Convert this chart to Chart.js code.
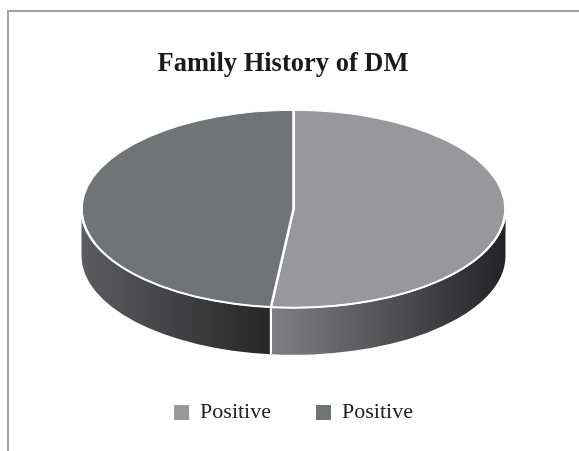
<!DOCTYPE html>
<html>
<head>
<meta charset="utf-8">
<script src="https://cdn.jsdelivr.net/npm/chart.js@4"></script>
<style>
  html, body { margin: 0; padding: 0; background: #fff; overflow: hidden; width: 579px; height: 451px; }
  #frame { position: absolute; left: 7px; top: 10px; width: 700px; height: 600px; border-left: 2px solid #a2a2a2; border-top: 2px solid #a2a2a2; }
  #title { position: absolute; left: 0; top: 47px; width: 566px; text-align: center; font: bold 26.5px "Liberation Serif", "Times New Roman", serif; line-height: 30px; color: #1a1a1a; }
  #chart { position: absolute; left: 0; top: 0; }
</style>
</head>
<body>
<div id="frame"></div>
<canvas id="chart" width="579" height="451"></canvas>
<div id="title">Family History of DM</div>
<script>
// data
const labels = ['Positive', 'Positive'];
const values = [51.7, 48.3];

// looks
const topColors = ['#98989c', '#727375'];
const wallColors = [['#808083', '#232325'], ['#5c5c5e', '#262627']];
const tilt = 0.466;
const depth = 47;

// draws the pie squashed + the side walls under it
const pie3d = {
  id: 'pie3d',
  beforeDatasetsDraw(chart) {
    const ctx = chart.ctx;
    const arcs = chart.getDatasetMeta(0).data;
    if (!arcs.length) return;
    arcs.forEach((arc, i) => {
      const {x, y, outerRadius: r, startAngle, endAngle} = arc;
      const a0 = Math.max(startAngle, 0);
      const a1 = Math.min(endAngle, Math.PI);
      if (a1 <= a0) return;
      const g = ctx.createLinearGradient(x + r * Math.cos(a1), 0, x + r * Math.cos(a0), 0);
      g.addColorStop(0, wallColors[i][0]);
      g.addColorStop(1, wallColors[i][1]);
      ctx.save();
      ctx.beginPath();
      ctx.ellipse(x, y, r, r * tilt, 0, a0, a1, false);
      ctx.ellipse(x, y + depth, r, r * tilt, 0, a1, a0, true);
      ctx.closePath();
      ctx.fillStyle = g;
      ctx.fill();
      ctx.restore();
    });
    const {x, y} = arcs[0];
    ctx.save();
    ctx.translate(x, y);
    ctx.scale(1, tilt);
    ctx.translate(-x, -y);
  },
  afterDatasetsDraw(chart) {
    const ctx = chart.ctx;
    const arcs = chart.getDatasetMeta(0).data;
    if (!arcs.length) return;
    ctx.restore();
    const {x, y, outerRadius: r} = arcs[0];
    ctx.save();
    ctx.strokeStyle = '#ffffff';
    ctx.lineWidth = 2;
    // front rim of the top face
    ctx.beginPath();
    ctx.ellipse(x, y, r, r * tilt, 0, 0, Math.PI, false);
    ctx.stroke();
    // dividers on the wall
    arcs.forEach(arc => {
      [arc.startAngle, arc.endAngle].forEach(a => {
        if (a > 0 && a < Math.PI) {
          const px = x + r * Math.cos(a);
          const py = y + r * tilt * Math.sin(a);
          ctx.beginPath();
          ctx.moveTo(px, py);
          ctx.lineTo(px, py + depth);
          ctx.stroke();
        }
      });
    });
    ctx.restore();
  }
};

const baseLabels = Chart.overrides.pie.plugins.legend.labels.generateLabels;

new Chart(document.getElementById('chart'), {
  type: 'pie',
  data: {
    labels: labels,
    datasets: [{
      data: values,
      backgroundColor: topColors,
      borderColor: '#ffffff',
      borderWidth: 2.5,
      radius: 212,
      clip: false
    }]
  },
  options: {
    responsive: false,
    animation: false,
    events: [],
    layout: { padding: { left: 8, right: 0, top: 61.5, bottom: 17.5 } },
    plugins: {
      title: { display: false },
      tooltip: { enabled: false },
      legend: {
        position: 'bottom',
        labels: {
          boxWidth: 15,
          boxHeight: 15,
          padding: 45,
          color: '#222',
          font: { family: 'Liberation Serif', size: 22 },
          generateLabels: chart => baseLabels(chart).map(l => Object.assign(l, { lineWidth: 0 }))
        }
      }
    }
  },
  plugins: [pie3d]
});
</script>
</body>
</html>
